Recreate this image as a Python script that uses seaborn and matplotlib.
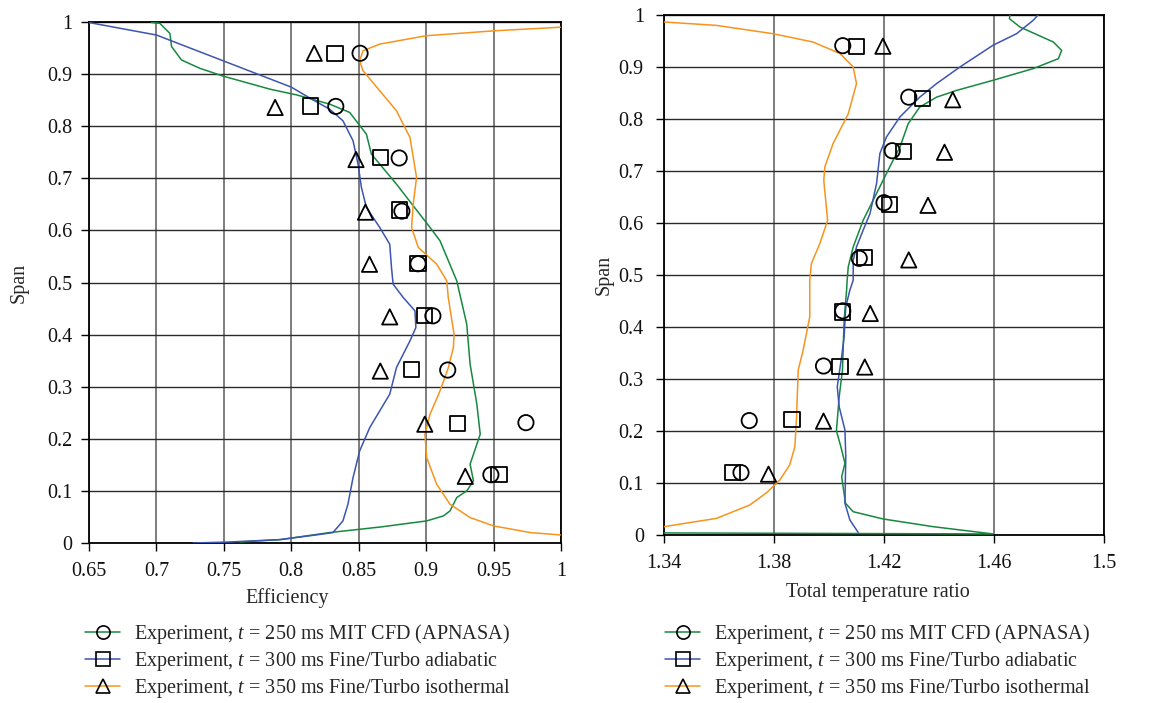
import numpy as np
import pandas as pd
import matplotlib
matplotlib.use("Agg")
import matplotlib.pyplot as plt
from matplotlib.lines import Line2D
import seaborn as sns

# ---------------- data ----------------
# Efficiency panel: measured points
eff_span_250 = [0.940, 0.838, 0.739, 0.637, 0.536, 0.436, 0.332, 0.231, 0.131]
eff_val_250 = [0.851, 0.833, 0.880, 0.882, 0.894, 0.905, 0.916, 0.974, 0.948]
eff_span_300 = [0.940, 0.839, 0.740, 0.639, 0.537, 0.437, 0.333, 0.230, 0.131]
eff_val_300 = [0.8325, 0.8145, 0.866, 0.880, 0.894, 0.899, 0.889, 0.923, 0.954]
eff_span_350 = [0.940, 0.836, 0.736, 0.635, 0.535, 0.434, 0.330, 0.228, 0.128]
eff_val_350 = [0.817, 0.788, 0.848, 0.855, 0.858, 0.873, 0.866, 0.899, 0.929]

# Efficiency panel: CFD profiles (stored tip first)
eff_apnasa = [0.6963, 0.7025, 0.710, 0.7112, 0.7186, 0.7323, 0.7496, 0.7843, 0.8041,
              0.8284, 0.8433, 0.8557, 0.8594, 0.878, 0.9029, 0.9103, 0.9227, 0.9301,
              0.9326, 0.9376, 0.9401, 0.9326, 0.9351, 0.9301, 0.9227, 0.9177, 0.9128,
              0.9004, 0.8660, 0.8284, 0.7917, 0.762]
eff_apnasa_span = [0.999, 0.9975, 0.978, 0.953, 0.927, 0.911, 0.896, 0.871, 0.860,
                   0.8424, 0.8264, 0.7848, 0.7464, 0.6888, 0.6056, 0.580, 0.5032, 0.420,
                   0.3432, 0.2664, 0.2088, 0.1512, 0.1192, 0.100, 0.0872, 0.0616, 0.052,
                   0.0424, 0.0307, 0.0200, 0.0065, 0.002]
eff_adiab = [0.65, 0.70, 0.75, 0.80, 0.8164, 0.8284, 0.8383, 0.8458, 0.8495, 0.852,
             0.8557, 0.8656, 0.8730, 0.8743, 0.8755, 0.883, 0.8917, 0.8924, 0.888,
             0.878, 0.873, 0.8582, 0.8507, 0.8458, 0.842, 0.8383, 0.8309, 0.8164,
             0.7917, 0.7545, 0.7273]
eff_adiab_span = [0.999, 0.975, 0.925, 0.875, 0.850, 0.8328, 0.8104, 0.772, 0.7272,
                  0.6824, 0.644, 0.6056, 0.5736, 0.5288, 0.4968, 0.4712, 0.4456, 0.4136,
                  0.388, 0.3368, 0.2856, 0.2216, 0.1768, 0.1256, 0.0744, 0.0424, 0.020,
                  0.0148, 0.0065, 0.002, 0.0]
eff_isoth = [0.9996, 0.95, 0.90, 0.8656, 0.8532, 0.8507, 0.8532, 0.8656, 0.878, 0.888,
             0.8929, 0.8904, 0.8892, 0.8942, 0.9078, 0.9153, 0.9164, 0.9207, 0.9202,
             0.9165, 0.9103, 0.9029, 0.8991, 0.9004, 0.9078, 0.9177, 0.9326, 0.95,
             0.9773, 0.9996]
eff_isoth_span = [0.990, 0.983, 0.9736, 0.9576, 0.9448, 0.9256, 0.9064, 0.868, 0.8296,
                  0.7784, 0.7016, 0.6504, 0.6056, 0.5672, 0.5352, 0.5032, 0.4712, 0.4008,
                  0.3752, 0.3368, 0.292, 0.2472, 0.2088, 0.164, 0.1128, 0.0744, 0.0488,
                  0.0328, 0.020, 0.0155]

# Total temperature ratio panel: measured points
ttr_span_250 = [0.941, 0.842, 0.739, 0.639, 0.532, 0.431, 0.325, 0.220, 0.120]
ttr_val_250 = [1.405, 1.429, 1.423, 1.420, 1.411, 1.405, 1.398, 1.371, 1.368]
ttr_span_300 = [0.939, 0.839, 0.737, 0.636, 0.534, 0.429, 0.324, 0.222, 0.120]
ttr_val_300 = [1.410, 1.434, 1.427, 1.422, 1.413, 1.405, 1.404, 1.3865, 1.365]
ttr_span_350 = [0.940, 0.837, 0.736, 0.634, 0.529, 0.426, 0.323, 0.219, 0.117]
ttr_val_350 = [1.4196, 1.445, 1.442, 1.436, 1.429, 1.415, 1.413, 1.398, 1.378]

# Total temperature ratio panel: CFD profiles
ttr_apnasa = [1.4658, 1.4656, 1.4694, 1.4816, 1.4846, 1.4834, 1.4743, 1.4597, 1.4464,
              1.4391, 1.433, 1.4288, 1.4258, 1.4221, 1.4173, 1.4124, 1.4088, 1.407,
              1.4066, 1.4064, 1.4055, 1.4049, 1.4037, 1.4027, 1.4043, 1.4058, 1.4046,
              1.406, 1.4088, 1.4197, 1.4379, 1.4597, 1.34]
ttr_apnasa_span = [0.9994, 0.993, 0.977, 0.948, 0.932, 0.916, 0.897, 0.8745, 0.855,
                   0.842, 0.823, 0.791, 0.746, 0.708, 0.657, 0.605, 0.554, 0.5157,
                   0.490, 0.471, 0.413, 0.317, 0.2658, 0.2005, 0.170, 0.138, 0.112,
                   0.061, 0.0448, 0.0308, 0.016, 0.002, 0.004]
ttr_adiab = [1.4759, 1.4743, 1.4682, 1.4597, 1.4476, 1.4391, 1.4330, 1.4258, 1.4209,
             1.4185, 1.4173, 1.4149, 1.4124, 1.41, 1.4088, 1.4088, 1.4076, 1.4061,
             1.4055, 1.4046, 1.403, 1.4037, 1.4058, 1.4061, 1.4058, 1.4076, 1.4106]
ttr_adiab_span = [0.9994, 0.990, 0.964, 0.942, 0.900, 0.868, 0.842, 0.804, 0.7655,
                  0.7336, 0.676, 0.618, 0.586, 0.554, 0.5285, 0.490, 0.471, 0.4388,
                  0.381, 0.343, 0.285, 0.2466, 0.2018, 0.150, 0.061, 0.0288, 0.005]
ttr_isoth = [1.34, 1.3591, 1.3797, 1.3942, 1.404, 1.4088, 1.410, 1.407, 1.4015, 1.3985,
             1.3981, 1.3995, 1.3967, 1.3936, 1.3930, 1.393, 1.393, 1.3906, 1.3888,
             1.3882, 1.3876, 1.3857, 1.3821, 1.3773, 1.3712, 1.3591, 1.34]
ttr_isoth_span = [0.9866, 0.980, 0.964, 0.948, 0.926, 0.900, 0.868, 0.810, 0.753, 0.708,
                  0.682, 0.605, 0.561, 0.522, 0.490, 0.471, 0.4196, 0.3556, 0.317,
                  0.2274, 0.170, 0.1345, 0.1057, 0.0813, 0.0577, 0.032, 0.016]

legend_labels = [
    "Experiment, $t$ = 250 ms MIT CFD (APNASA)",
    "Experiment, $t$ = 300 ms Fine/Turbo adiabatic",
    "Experiment, $t$ = 350 ms Fine/Turbo isothermal",
]
eff_xticks = [0.65, 0.7, 0.75, 0.8, 0.85, 0.9, 0.95, 1.0]
eff_xticklabels = ["0.65", "0.7", "0.75", "0.8", "0.85", "0.9", "0.95", "1"]
ttr_xticks = [1.34, 1.38, 1.42, 1.46, 1.5]
ttr_xticklabels = ["1.34", "1.38", "1.42", "1.46", "1.5"]
span_ticks = [0, 0.1, 0.2, 0.3, 0.4, 0.5, 0.6, 0.7, 0.8, 0.9, 1.0]
span_ticklabels = ["0", "0.1", "0.2", "0.3", "0.4", "0.5", "0.6", "0.7", "0.8", "0.9", "1"]

# ---------------- style ----------------
sns.set_theme(style="white")
plt.rcParams["font.family"] = ["Liberation Serif", "DejaVu Serif"]
plt.rcParams["mathtext.fontset"] = "custom"
plt.rcParams["mathtext.it"] = "Liberation Serif:italic"
plt.rcParams["mathtext.rm"] = "Liberation Serif"

FS = 14.5
GREEN = "#17893f"
BLUE = "#3c55b0"
ORANGE = "#f7941d"
VGRID = "#5a5a5a"
HGRID = "#2a2a2a"
MS = 11

fig = plt.figure(figsize=(11.61, 7.03), dpi=100)
ax1 = fig.add_axes([89 / 1161, (703 - 543) / 703, 472 / 1161, 521 / 703])
ax2 = fig.add_axes([664 / 1161, (703 - 535) / 703, 440 / 1161, 520 / 703])


def draw_panel(ax, profiles, points, xlim, xticks, xticklabels, xlabel, ypad):
    for xs, ys, col in profiles:
        df = pd.DataFrame({"x": xs, "span": ys})
        sns.lineplot(data=df, x="x", y="span", sort=False, estimator=None,
                     color=col, linewidth=1.1, ax=ax, zorder=3)
    for xs, ys, mk in points:
        df = pd.DataFrame({"x": xs, "span": ys})
        sns.scatterplot(data=df, x="x", y="span", marker=mk, s=MS ** 2,
                        facecolor="none", edgecolor="black", linewidth=1.3,
                        ax=ax, zorder=4)
    ax.set_xlim(*xlim)
    ax.set_ylim(0, 1)
    ax.set_xticks(xticks)
    ax.set_xticklabels(xticklabels, fontsize=FS)
    ax.set_yticks(span_ticks)
    ax.set_yticklabels(span_ticklabels, fontsize=FS)
    ax.grid(True, axis="x", color=VGRID, linewidth=1.1)
    ax.grid(True, axis="y", color=HGRID, linewidth=1.0)
    ax.set_axisbelow(True)
    for sp in ax.spines.values():
        sp.set_color("black")
        sp.set_linewidth(1.3)
        sp.set_visible(True)
    ax.tick_params(axis="both", which="major", direction="out", length=5.5,
                   width=1.0, color="black", left=True, bottom=True,
                   labelcolor="#111111")
    ax.tick_params(axis="x", pad=8)
    ax.tick_params(axis="y", pad=ypad)
    ax.set_xlabel(xlabel, fontsize=FS)
    ax.set_ylabel("Span", fontsize=FS)

    handles = [
        Line2D([], [], color=GREEN, lw=1.1, marker="o", markersize=9.5,
               markerfacecolor="none", markeredgecolor="black", markeredgewidth=1.2),
        Line2D([], [], color=BLUE, lw=1.1, marker="s", markersize=9.5,
               markerfacecolor="none", markeredgecolor="black", markeredgewidth=1.2),
        Line2D([], [], color=ORANGE, lw=1.1, marker="^", markersize=9.5,
               markerfacecolor="none", markeredgecolor="black", markeredgewidth=1.2),
    ]
    return handles


h = draw_panel(
    ax1,
    [(eff_apnasa, eff_apnasa_span, GREEN), (eff_adiab, eff_adiab_span, BLUE),
     (eff_isoth, eff_isoth_span, ORANGE)],
    [(eff_val_250, eff_span_250, "o"), (eff_val_300, eff_span_300, "s"),
     (eff_val_350, eff_span_350, "^")],
    (0.65, 1.0), eff_xticks, eff_xticklabels, "Efficiency", 6.5,
)
ax1.xaxis.set_label_coords(0.42, -0.086)
ax1.yaxis.set_label_coords(-0.128, 0.5)

draw_panel(
    ax2,
    [(ttr_apnasa, ttr_apnasa_span, GREEN), (ttr_adiab, ttr_adiab_span, BLUE),
     (ttr_isoth, ttr_isoth_span, ORANGE)],
    [(ttr_val_250, ttr_span_250, "o"), (ttr_val_300, ttr_span_300, "s"),
     (ttr_val_350, ttr_span_350, "^")],
    (1.34, 1.5), ttr_xticks, ttr_xticklabels, "Total temperature ratio", 9,
)
ax2.xaxis.set_label_coords(0.485, -0.092)
ax2.yaxis.set_label_coords(-0.115, 0.5)

for ax, x0 in ((ax1, 85), (ax2, 665)):
    if ax.get_legend() is not None:
        ax.get_legend().remove()
    fig.legend(h, legend_labels, loc="upper left",
               bbox_to_anchor=(x0 / 1161, 1 - 622 / 703),
               bbox_transform=fig.transFigure, frameon=False, fontsize=FS,
               handlelength=1.75, handletextpad=0.7, labelspacing=0.19,
               borderpad=0, borderaxespad=0)

fig.savefig("out.png", dpi=100)
